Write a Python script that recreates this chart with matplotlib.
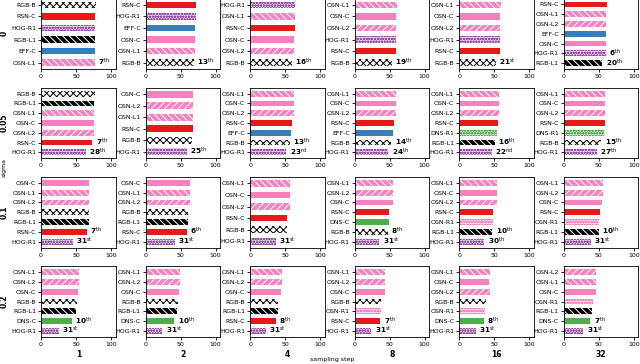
import matplotlib
matplotlib.use('Agg')
import matplotlib.pyplot as plt

sigmas = ['0', '0.05', '0.1', '0.2']
steps = ['1', '2', '4', '8', '16', '32']

# bars listed top -> bottom, one list per sampling step
labels_s0 = [['RGB-B', 'RSN-C', 'HOG-R1', 'RGB-L1', 'EFF-C', 'OSN-L1'],
             ['RSN-C', 'HOG-R1', 'EFF-C', 'OSN-C', 'OSN-L1', 'RGB-B'],
             ['HOG-R1', 'OSN-L1', 'RSN-C', 'OSN-C', 'OSN-L2', 'RGB-B'],
             ['OSN-L1', 'OSN-C', 'OSN-L2', 'HOG-R1', 'RSN-C', 'RGB-B'],
             ['OSN-L1', 'OSN-C', 'OSN-L2', 'HOG-R1', 'RSN-C', 'RGB-B'],
             ['RSN-C', 'OSN-L1', 'OSN-L2', 'EFF-C', 'OSN-C', 'HOG-R1', 'RGB-L1']]
values_s0 = [[78, 77.8, 77.6, 77.2, 77, 76.8],
             [71.5, 71.5, 70.5, 70.3, 70.3, 69],
             [64, 63.8, 63.5, 63.3, 63.3, 59.5],
             [60, 59.5, 59.5, 59, 58.5, 53],
             [59.5, 58.7, 58.7, 58.3, 58, 52],
             [61.4, 60.6, 60.5, 60.2, 60.1, 60, 55]]
ranks_s0 = [{'OSN-L1': 7}, {'RGB-B': 13}, {'RGB-B': 16}, {'RGB-B': 19},
            {'RGB-B': 21}, {'HOG-R1': 6, 'RGB-L1': 20}]

labels_s1 = [['RGB-B', 'RGB-L1', 'OSN-L1', 'OSN-C', 'OSN-L2', 'RSN-C', 'HOG-R1'],
             ['OSN-C', 'OSN-L2', 'OSN-L1', 'RSN-C', 'RGB-B', 'HOG-R1'],
             ['OSN-L1', 'OSN-C', 'OSN-L2', 'RSN-C', 'EFF-C', 'RGB-B', 'HOG-R1'],
             ['OSN-L1', 'OSN-C', 'OSN-L2', 'RSN-C', 'EFF-C', 'RGB-B', 'HOG-R1'],
             ['OSN-L1', 'OSN-C', 'OSN-L2', 'RSN-C', 'DNS-R1', 'RGB-L1', 'HOG-R1'],
             ['OSN-L1', 'OSN-C', 'OSN-L2', 'RSN-C', 'DNS-R1', 'RGB-B', 'HOG-R1']]
values_s1 = [[77, 76.2, 75.2, 75, 75, 73, 64],
             [68.2, 68, 68, 67.5, 66.6, 58.6],
             [62.4, 62.2, 62.2, 60.5, 58, 57, 51.4],
             [59.6, 59.2, 59.2, 56.2, 55.2, 52.4, 48],
             [57.5, 57.2, 57.2, 54.8, 54.3, 51, 46.7],
             [59.2, 59, 59, 58.3, 57.3, 53.3, 47]]
ranks_s1 = [{'RSN-C': 7, 'HOG-R1': 28}, {'HOG-R1': 25},
            {'RGB-B': 13, 'HOG-R1': 23}, {'RGB-B': 14, 'HOG-R1': 24},
            {'RGB-L1': 16, 'HOG-R1': 22}, {'RGB-B': 15, 'HOG-R1': 27}]

labels_s2 = [['OSN-C', 'OSN-L1', 'OSN-L2', 'RGB-B', 'RGB-L1', 'RSN-C', 'HOG-R1'],
             ['OSN-C', 'OSN-L1', 'OSN-L2', 'RGB-B', 'RGB-L1', 'RSN-C', 'HOG-R1'],
             ['OSN-L1', 'OSN-C', 'OSN-L2', 'RSN-C', 'RGB-B', 'HOG-R1'],
             ['OSN-L1', 'OSN-L2', 'OSN-C', 'RSN-C', 'DNS-C', 'RGB-B', 'HOG-R1'],
             ['OSN-L1', 'OSN-C', 'OSN-L2', 'RSN-C', 'OSN-R1', 'RGB-L1', 'HOG-R1'],
             ['OSN-L1', 'OSN-L2', 'OSN-C', 'RSN-C', 'OSN-R1', 'RGB-L1', 'HOG-R1']]
values_s2 = [[69.2, 69, 69, 68.6, 68, 65.2, 45],
             [64, 63.8, 63.8, 60.5, 60, 58.6, 42],
             [57.2, 57, 57, 53, 52.4, 37],
             [54.4, 54.3, 54.2, 49.5, 49, 47, 35],
             [54, 53.8, 53.5, 48.6, 47.7, 47, 35.7],
             [56, 56, 55, 51.8, 50.8, 50, 38.5]]
ranks_s2 = [{'RSN-C': 7, 'HOG-R1': 31}, {'RSN-C': 6, 'HOG-R1': 31},
            {'HOG-R1': 31}, {'RGB-B': 8, 'HOG-R1': 31},
            {'RGB-L1': 10, 'HOG-R1': 30}, {'RGB-L1': 10, 'HOG-R1': 31}]

labels_s3 = [['OSN-L1', 'OSN-L2', 'OSN-C', 'RGB-B', 'RGB-L1', 'DNS-C', 'HOG-R1'],
             ['OSN-L1', 'OSN-L2', 'OSN-C', 'RGB-B', 'RGB-L1', 'DNS-C', 'HOG-R1'],
             ['OSN-L1', 'OSN-L2', 'OSN-C', 'RGB-B', 'RGB-L1', 'RSN-C', 'HOG-R1'],
             ['OSN-L1', 'OSN-L2', 'OSN-C', 'RGB-B', 'OSN-R1', 'RSN-C', 'HOG-R1'],
             ['OSN-L1', 'OSN-C', 'OSN-L2', 'RGB-B', 'OSN-R1', 'DNS-C', 'HOG-R1'],
             ['OSN-L2', 'OSN-L1', 'OSN-C', 'OSN-R1', 'RGB-L1', 'DNS-C', 'HOG-R1']]
values_s3 = [[53.8, 53.8, 52.9, 51.9, 50.5, 43.8, 25],
             [49, 49, 48, 46.2, 45.2, 41, 23.8],
             [45.2, 45.2, 44.3, 40.5, 39.5, 36.7, 22.4],
             [44, 44, 43.3, 38.3, 37.8, 36.7, 23.8],
             [43.8, 43.2, 43.8, 38, 37.5, 35.2, 23.4],
             [46.6, 46.6, 45.7, 42.3, 40, 37.6, 27.6]]
ranks_s3 = [{'DNS-C': 10, 'HOG-R1': 31}, {'DNS-C': 10, 'HOG-R1': 31},
            {'RSN-C': 8, 'HOG-R1': 31}, {'RSN-C': 7, 'HOG-R1': 31},
            {'DNS-C': 8, 'HOG-R1': 31}, {'DNS-C': 7, 'HOG-R1': 31}]

all_labels = [labels_s0, labels_s1, labels_s2, labels_s3]
all_values = [values_s0, values_s1, values_s2, values_s3]
all_ranks = [ranks_s0, ranks_s1, ranks_s2, ranks_s3]

red = '#e41a1c'
blue = '#377eb8'
green = '#4daf4a'
purple = '#984ea3'
pink = '#f781bf'

# facecolor, hatch colour, hatch
style = {
    'RGB-B': ('white', 'black', 'xxxxx'),
    'RGB-L1': ('black', 'white', '\\\\\\\\\\'),
    'RSN-C': (red, red, None),
    'EFF-C': (blue, blue, None),
    'DNS-C': (green, green, None),
    'DNS-R1': ('#e4f3e3', green, 'oooooo'),
    'HOG-R1': ('#eadcef', purple, 'oooooo'),
    'OSN-C': (pink, pink, None),
    'OSN-L1': (pink, 'white', '\\\\\\\\\\'),
    'OSN-L2': (pink, 'white', '/////'),
    'OSN-R1': ('#fde6f2', pink, 'oooooo'),
}


def ordinal(n):
    if n % 100 in (11, 12, 13):
        return 'th'
    return {1: 'st', 2: 'nd', 3: 'rd'}.get(n % 10, 'th')


plt.rcParams['hatch.linewidth'] = 0.7
fig, axes = plt.subplots(4, 6, figsize=(6.4, 3.64), dpi=100)
plt.subplots_adjust(left=0.0641, right=0.9975, bottom=0.0742, top=1.0047,
                    wspace=0.4, hspace=0.258)

for r in range(4):
    for c in range(6):
        ax = axes[r, c]
        labs = all_labels[r][c]
        vals = all_values[r][c]
        n = len(labs)
        ys = [n - 1 - i for i in range(n)]
        for y, lab, v in zip(ys, labs, vals):
            fc, ec, h = style[lab]
            ax.barh(y, v, height=0.6, color=fc, edgecolor=ec, hatch=h, linewidth=0)
            if lab in all_ranks[r][c]:
                k = all_ranks[r][c][lab]
                ax.text(v + 5, y, '$\\mathbf{%d}^{\\mathrm{%s}}$' % (k, ordinal(k)),
                        fontsize=5.2, va='center', ha='left')
        ax.set_yticks(ys)
        ax.set_yticklabels(labs)
        ax.set_xlim(0, 106.7)
        ax.set_xticks([0, 50, 100])
        ax.tick_params(labelsize=4.5, length=2, width=0.6, pad=1.5)
        for s in ax.spines.values():
            s.set_linewidth(0.6)
        if c == 0:
            ax.set_ylabel(sigmas[r], fontsize=5.5, fontweight='bold')
            ax.yaxis.set_label_coords(-0.43, 0.5)
        if r == 3:
            ax.set_xlabel(steps[c], fontsize=5.5, fontweight='bold', labelpad=2)

fig.text(0.519, 0.013, 'sampling step', fontsize=4.5, ha='center', va='center')
fig.text(0.007, 0.54, 'sigma', fontsize=4.5, ha='center', va='center', rotation=90)

plt.savefig('out.png', dpi=100)
